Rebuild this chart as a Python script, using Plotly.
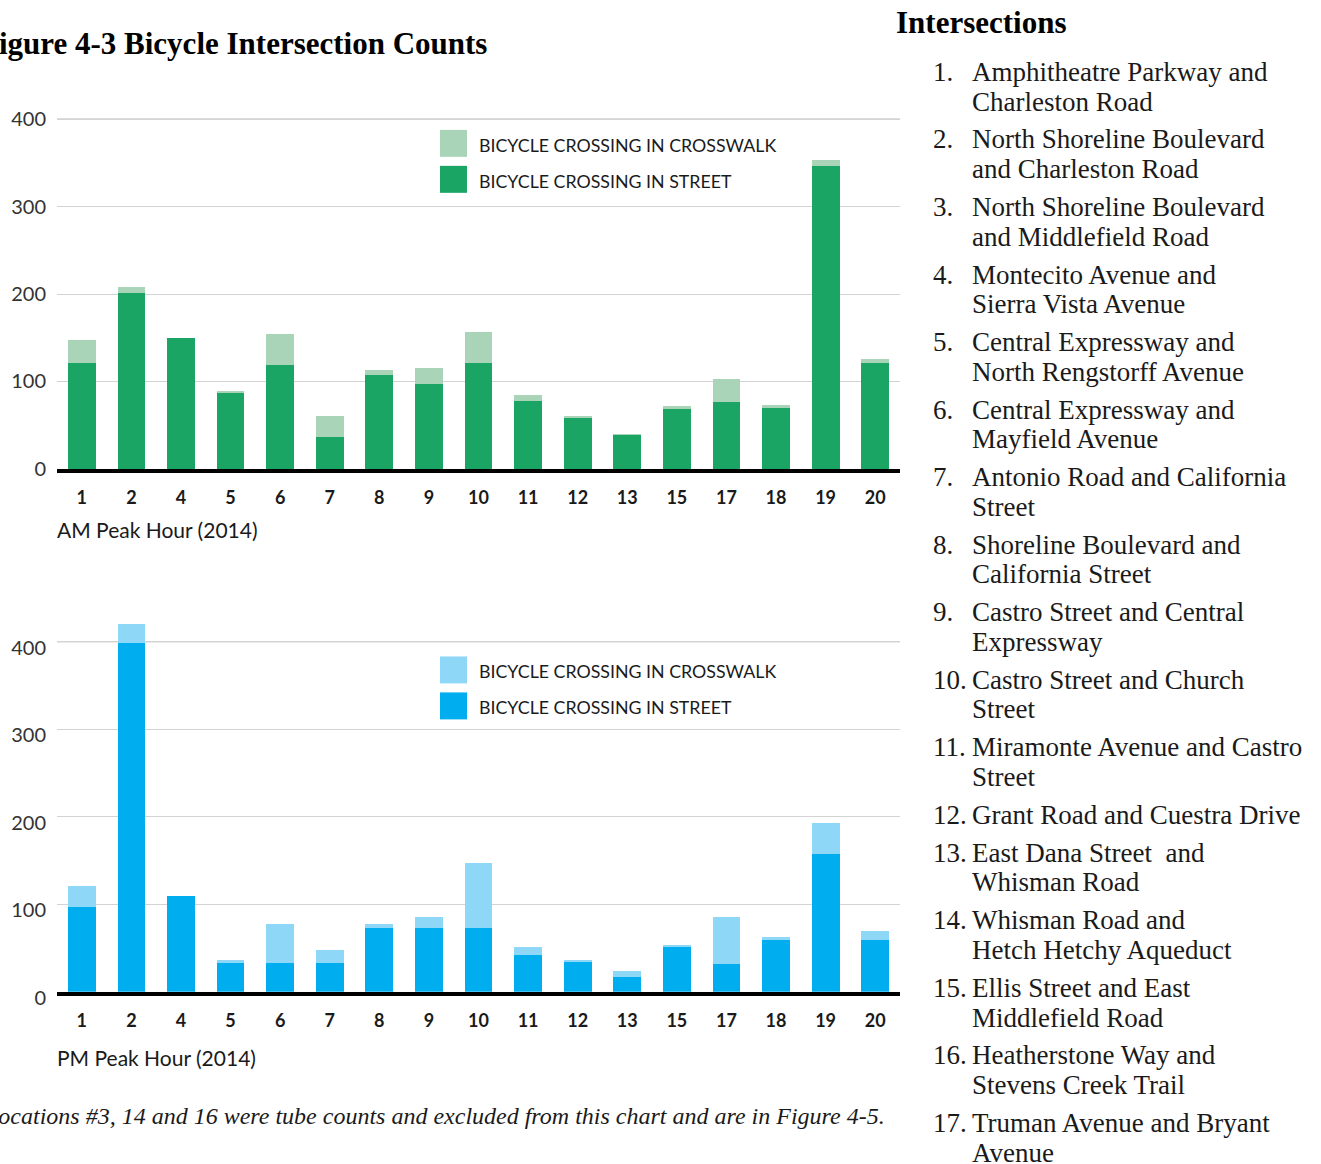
import plotly.graph_objects as go
from plotly.subplots import make_subplots

# intersection ids shown on the x axis
sites = ["1", "2", "4", "5", "6", "7", "8", "9", "10", "11", "12", "13", "15", "17", "18", "19", "20"]

# AM peak hour (2014)
am_street = [121, 201, 150, 87, 119, 37, 107, 97, 121, 78, 58, 39, 68, 77, 70, 346, 121]
am_crosswalk = [26, 7, 0, 2, 35, 24, 6, 18, 36, 6, 3, 1, 4, 26, 3, 7, 5]

# PM peak hour (2014)
pm_street = [97, 399, 110, 33, 33, 33, 73, 73, 73, 42, 34, 17, 51, 32, 59, 158, 59]
pm_crosswalk = [24, 21, 0, 3, 45, 15, 5, 12, 74, 9, 2, 7, 1, 54, 4, 35, 11]

y_ticks = [0, 100, 200, 300, 400]

intersections = [
    ["Amphitheatre Parkway and", "Charleston Road"],
    ["North Shoreline Boulevard", "and Charleston Road"],
    ["North Shoreline Boulevard", "and Middlefield Road"],
    ["Montecito Avenue and", "Sierra Vista Avenue"],
    ["Central Expressway and", "North Rengstorff Avenue"],
    ["Central Expressway and", "Mayfield Avenue"],
    ["Antonio Road and California", "Street"],
    ["Shoreline Boulevard and", "California Street"],
    ["Castro Street and Central", "Expressway"],
    ["Castro Street and Church", "Street"],
    ["Miramonte Avenue and Castro", "Street"],
    ["Grant Road and Cuestra Drive"],
    ["East Dana Street  and", "Whisman Road"],
    ["Whisman Road and", "Hetch Hetchy Aqueduct"],
    ["Ellis Street and East", "Middlefield Road"],
    ["Heatherstone Way and", "Stevens Creek Trail"],
    ["Truman Avenue and Bryant", "Avenue"],
]

# positions below are given in the 1321x1164 picture's pixels; the page capture
# comes out 16px taller than the window, so the figure is drawn that much taller
W, H = 1321, 1164
FIG_H = H + 16
GREEN, GREEN_LT = "#1aa564", "#a9d4b8"
BLUE, BLUE_LT = "#00aeef", "#8fd7f7"
SANS = "Lato"
SERIF = "Liberation Serif"
INK = "#1a1a1a"


def px(x):
    return x / W


def py(y):
    return 1 - y / H


fig = make_subplots(rows=2, cols=1)

fig.add_trace(go.Bar(x=sites, y=am_street, marker_color=GREEN, name="BICYCLE CROSSING IN STREET"), row=1, col=1)
fig.add_trace(go.Bar(x=sites, y=am_crosswalk, marker_color=GREEN_LT, name="BICYCLE CROSSING IN CROSSWALK"), row=1, col=1)
fig.add_trace(go.Bar(x=sites, y=pm_street, marker_color=BLUE, name="BICYCLE CROSSING IN STREET"), row=2, col=1)
fig.add_trace(go.Bar(x=sites, y=pm_crosswalk, marker_color=BLUE_LT, name="BICYCLE CROSSING IN CROSSWALK"), row=2, col=1)

fig.update_traces(marker_line_width=0)

fig.update_layout(
    width=W, height=FIG_H,
    margin=dict(l=0, r=0, t=0, b=0),
    barmode="stack",
    bargap=0.44,
    showlegend=False,
    plot_bgcolor="white",
    paper_bgcolor="white",
    font=dict(family=SANS, color=INK),
)

x_dom = [px(57), px(900)]
fig.update_xaxes(
    domain=x_dom,
    showgrid=False,
    showline=True, linewidth=4, linecolor="black",
    ticks="", ticklabelstandoff=10,
    tickfont=dict(family=SANS, size=18, color=INK, weight="bold"),
)
fig.update_yaxes(
    range=[0, 430],
    tickvals=y_ticks,
    showgrid=True, gridcolor="#d3d3d3", gridwidth=1,
    zeroline=False,
    ticks="", ticklabelstandoff=10,
    tickfont=dict(family=SANS, size=20, color="#333333"),
)
fig.update_yaxes(domain=[py(469.3), py(93)], row=1, col=1)
fig.update_yaxes(domain=[py(992.7), py(616)], ticklabelshift=6, row=2, col=1)

# darker top gridline
for yref, xref in [("y", "x domain"), ("y2", "x2 domain")]:
    fig.add_shape(type="line", xref=xref, yref=yref, x0=0, x1=1, y0=400, y1=400,
                  line=dict(color="#9c9c9c", width=1), layer="below")

# legends drawn as large swatches
for top, dark, light in [(130, GREEN, GREEN_LT), (657, BLUE, BLUE_LT)]:
    for i, (col, label) in enumerate([(light, "BICYCLE CROSSING IN CROSSWALK"),
                                      (dark, "BICYCLE CROSSING IN STREET")]):
        y0 = top + i * 36
        fig.add_shape(type="rect", xref="paper", yref="paper",
                      x0=px(440), x1=px(467), y0=py(y0 + 27), y1=py(y0),
                      fillcolor=col, line_width=0)
        fig.add_annotation(text=label, xref="paper", yref="paper",
                           x=px(477), y=py(y0 + 15), xanchor="left", yanchor="middle",
                           showarrow=False, font=dict(family=SANS, size=17.8, color=INK))

# x axis captions
for y, label in [(530, "AM Peak Hour (2014)"), (1058, "PM Peak Hour (2014)")]:
    fig.add_annotation(text=label, xref="paper", yref="paper", x=px(55), y=py(y),
                       xanchor="left", yanchor="middle", showarrow=False,
                       font=dict(family=SANS, size=21, color=INK))

# title and footnote, cropped at the left edge like the source page
fig.add_annotation(text="<b>Figure 4-3 Bicycle Intersection Counts</b>", xref="paper", yref="paper",
                   x=px(-22), y=py(44), xanchor="left", yanchor="middle", showarrow=False,
                   font=dict(family=SERIF, size=31, color="black"))
fig.add_annotation(text="<i>Locations #3, 14 and 16 were tube counts and excluded from this chart and are in Figure 4-5.</i>",
                   xref="paper", yref="paper", x=px(-18), y=py(1117), xanchor="left", yanchor="middle",
                   showarrow=False, font=dict(family=SERIF, size=24, color=INK))

# intersection list on the right
fig.add_annotation(text="<b>Intersections</b>", xref="paper", yref="paper", x=px(894), y=py(23),
                   xanchor="left", yanchor="middle", showarrow=False,
                   font=dict(family=SERIF, size=31, color="black"))
LINE_STEP, ITEM_GAP = 29.7, 8.2
y = 72
for n, lines in enumerate(intersections, start=1):
    fig.add_annotation(text=f"{n}.", xref="paper", yref="paper", x=px(931), y=py(y),
                       xanchor="left", yanchor="middle", showarrow=False,
                       font=dict(family=SERIF, size=27, color=INK))
    for line in lines:
        fig.add_annotation(text=line, xref="paper", yref="paper", x=px(970), y=py(y),
                           xanchor="left", yanchor="middle", showarrow=False,
                           font=dict(family=SERIF, size=27, color=INK))
        y += LINE_STEP
    y += ITEM_GAP

fig.write_html(
    "out.html",
    config={"displayModeBar": False},
    post_script="document.body.style.margin = '0px';",
)
